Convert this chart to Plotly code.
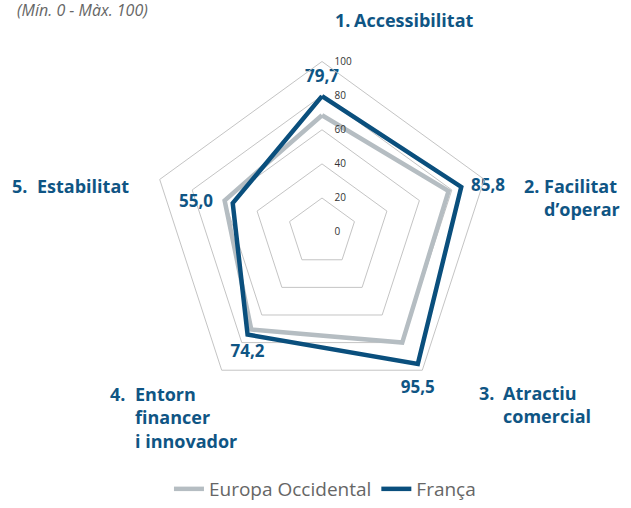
import plotly.graph_objects as go

# ---- data ----
categories = ["1. Accessibilitat", "2. Facilitat d'operar", "3. Atractiu comercial",
              "4. Entorn financer i innovador", "5. Estabilitat"]
cat_nums = ["1.", "2.", "3.", "4.", "5."]
cat_names = ["Accessibilitat", "Facilitat<br>d\u2019operar", "Atractiu<br>comercial",
             "Entorn<br>financer<br>i innovador", "Estabilitat"]
europa = [68.5, 78.0, 80.0, 70.5, 60.0]
franca = [79.7, 85.8, 95.5, 74.2, 55.0]
franca_labels = ["79,7", "85,8", "95,5", "74,2", "55,0"]
series_names = ["Europa Occidental", "Fran\u00e7a"]
radial_ticks = [0, 20, 40, 60, 80, 100]
subtitle = "(M\u00edn. 0 - M\u00e0x. 100)"

# ---- styling ----
W, H = 631, 508
BLUE = "#0a4f7d"
GREY = "#b5bdc2"
LABEL = "#0f5584"
FONT = "Open Sans"

cx, cy, R = 322, 234, 172
dom_x = [(cx - R) / W, (cx + R) / W]
dom_y = [(H - cy - R) / H, (H - cy + R) / H]

fig = go.Figure()
fig.add_trace(go.Scatterpolar(
    r=europa + europa[:1], theta=categories + categories[:1],
    mode="lines", name=series_names[0],
    line=dict(color=GREY, width=4.5), hoverinfo="skip"))
fig.add_trace(go.Scatterpolar(
    r=franca + franca[:1], theta=categories + categories[:1],
    mode="lines", name=series_names[1],
    line=dict(color=BLUE, width=4.5), hoverinfo="skip"))
fig.add_trace(go.Scatterpolar(
    r=franca, theta=categories, mode="markers+text",
    text=franca_labels,
    textposition=["top center", "middle right", "bottom center", "bottom center", "middle left"],
    textfont=dict(family=FONT, size=17, color=LABEL, weight="bold"),
    marker=dict(size=[14, 14, 24, 14, 30], opacity=0), showlegend=False, hoverinfo="skip"))

fig.update_layout(
    width=W, height=H,
    margin=dict(l=0, r=0, t=0, b=0),
    paper_bgcolor="white", plot_bgcolor="white",
    font=dict(family=FONT, color="#555"),
    polar=dict(
        domain=dict(x=dom_x, y=dom_y),
        bgcolor="white",
        gridshape="linear",
        radialaxis=dict(range=[0, 100], tickvals=radial_ticks, angle=90, side="clockwise",
                        tickangle=90,
                        showline=False, gridcolor="#c4c4c4", gridwidth=1,
                        ticks="outside", ticklen=10, tickcolor="rgba(0,0,0,0)",
                        tickfont=dict(family=FONT, size=10, color="#333")),
        angularaxis=dict(rotation=90, direction="clockwise", showgrid=False,
                         showticklabels=False, ticks="",
                         showline=True, linecolor="#c4c4c4", linewidth=1),
    ),
    legend=dict(orientation="h", x=0.515, xanchor="center", y=(H - 493) / H, yanchor="middle",
                font=dict(family=FONT, size=19, color="#666"),
                tracegroupgap=0),
    showlegend=True,
)

# category labels (hanging indent: number + name)
num_x = [333, 522, 477, 108, 10]
name_x = [352, 542, 501, 133, 35]
first_line_y = [18, 185.5, 394.5, 395, 185.5]
for i in range(5):
    for txt, xp in ((cat_nums[i], num_x[i]), (cat_names[i], name_x[i])):
        fig.add_annotation(
            x=xp / W, y=(H - first_line_y[i] + 12) / H, xref="paper", yref="paper",
            xanchor="left", yanchor="top", align="left", showarrow=False,
            text=f"<b>{txt}</b>",
            font=dict(family=FONT, size=18, color=LABEL))

fig.add_annotation(x=150 / W, y=(H - 10) / H, xref="paper", yref="paper",
                   xanchor="right", yanchor="middle", showarrow=False,
                   text=f"<i>{subtitle}</i>", font=dict(family=FONT, size=16, color="#666"))

fig.write_html("out.html")
